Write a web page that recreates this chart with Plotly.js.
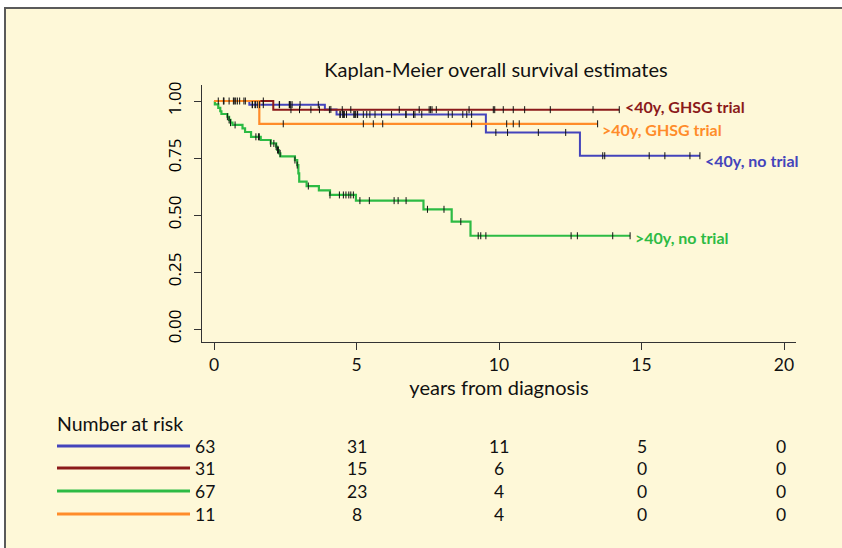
<!DOCTYPE html>
<html>
<head>
<meta charset="utf-8">
<script src="https://cdn.plot.ly/plotly-3.0.1.min.js"></script>
<style>html,body{margin:0;padding:0;background:#fff;}#chart{width:842px;height:548px;}</style>
</head>
<body>
<div id="chart"></div>
<script>
// ---------- data ----------
const groupNames = ["<40y, no trial", "<40y, GHSG trial", ">40y, no trial", ">40y, GHSG trial"];

const blueTimes = [0, 1.24, 3.89, 4.30, 9.54, 12.84];
const blueSurv  = [1.0, 0.984, 0.963, 0.941, 0.862, 0.760];
const blueEnd = 17.05;
const blueCensor = [0.35, 0.9, 1.1, 1.34, 1.35, 1.44, 1.45, 1.52, 1.6, 1.73, 2.29, 2.3, 2.64, 2.65, 2.69, 2.74, 3.02, 3.66, 4.1,
  4.42, 4.43, 4.52, 4.53, 4.56, 4.57, 4.65, 4.91, 4.92, 4.97, 5.03, 5.04, 5.24, 5.36, 5.47, 5.65, 5.88, 6.23, 6.73, 6.74,
  7.0, 7.05, 7.29, 8.22, 8.36, 8.73, 8.87, 9.04, 9.89, 10.3, 11.38, 12.34, 13.64, 13.71, 15.27, 15.82, 16.7, 17.05];

const redTimes = [0, 2.08];
const redSurv  = [1.0, 0.962];
const redEnd = 14.22;
const redCensor = [0.15, 0.53, 0.68, 0.71, 0.76, 0.82, 1.05, 1.73, 2.7, 3.0, 3.4, 3.7, 4.05, 4.5, 4.8, 6.5, 7.2, 7.55, 7.6,
  7.65, 7.8, 8.95, 9.8, 9.85, 10.15, 10.5, 10.9, 11.8, 13.3, 14.22];

const greenTimes = [0, 0.03, 0.15, 0.22, 0.26, 0.47, 0.53, 0.58, 0.65, 1.0, 1.09, 1.3, 1.64, 1.99, 2.18, 2.22, 2.28, 2.33,
  2.84, 2.92, 2.96, 2.99, 3.25, 3.68, 4.07, 4.98, 7.35, 8.34, 9.0];
const greenSurv  = [1.0, 0.985, 0.970, 0.955, 0.943, 0.931, 0.917, 0.905, 0.895, 0.880, 0.864, 0.843, 0.829, 0.814, 0.800,
  0.785, 0.770, 0.757, 0.741, 0.719, 0.683, 0.646, 0.627, 0.608, 0.588, 0.563, 0.525, 0.471, 0.409];
const greenEnd = 14.6;
const greenCensor = [0.47, 0.53, 0.58, 0.74, 1.47, 1.56, 1.59, 1.99, 2.1, 2.18, 2.23, 2.26, 2.32, 2.84, 2.92, 3.31, 4.07,
  4.4, 4.54, 4.63, 4.73, 4.8, 4.89, 5.12, 5.45, 6.32, 6.46, 6.74, 7.49, 8.07, 8.66, 9.27, 9.36, 9.54, 12.53, 12.75, 13.99, 14.6];

const orangeTimes = [0, 1.59];
const orangeSurv  = [1.0, 0.900];
const orangeEnd = 13.46;
const orangeCensor = [0.33, 2.43, 5.24, 5.59, 5.92, 9.04, 10.27, 10.5, 10.71, 13.46];

const riskTimes = [0, 5, 10, 15, 20];
const riskBlue   = [63, 31, 11, 5, 0];
const riskRed    = [31, 15, 6, 0, 0];
const riskGreen  = [67, 23, 4, 0, 0];
const riskOrange = [11, 8, 4, 0, 0];

const xTicks = [0, 5, 10, 15, 20];
const yTicks = [0, 0.25, 0.5, 0.75, 1.0];
const yTickText = ["0.00", "0.25", "0.50", "0.75", "1.00"];

// ---------- styling ----------
const C = {blue: "#4444BB", red: "#8B1A1A", green: "#2DBB44", orange: "#FF8C2A"};
const BG = "#FEF8D8";
const FONT = "Lato";
const YFONT = "Open Sans";

// plot area in pixels: left 202, right 796, top 85, bottom 342
const L = 202, R = 796, T = 85, B = 342, W = 842, H = 548;
const px2x = p => (p - L) / (R - L);
const py2y = p => (B - p) / (B - T);

function stepAt(times, surv, t) {
  let v = surv[0];
  for (let i = 0; i < times.length; i++) { if (times[i] <= t) v = surv[i]; }
  return v;
}
function curve(times, surv, end, color, width) {
  return {x: times.concat([end]), y: surv.concat([surv[surv.length - 1]]), type: "scatter", mode: "lines",
    line: {shape: "hv", color: color, width: width}, hoverinfo: "skip", showlegend: false};
}
function censors(times, surv, cens) {
  return {x: cens, y: cens.map(t => stepAt(times, surv, t)), type: "scatter", mode: "markers",
    marker: {symbol: "line-ns-open", size: 5, color: "#111111", line: {color: "#111111", width: 1}},
    hoverinfo: "skip", showlegend: false};
}

const traces = [
  curve(blueTimes, blueSurv, blueEnd, C.blue, 2),
  curve(redTimes, redSurv, redEnd, C.red, 2),
  curve(greenTimes, greenSurv, greenEnd, C.green, 2.2),
  curve(orangeTimes, orangeSurv, orangeEnd, C.orange, 2.2),
  censors(blueTimes, blueSurv, blueCensor),
  censors(redTimes, redSurv, redCensor),
  censors(greenTimes, greenSurv, greenCensor),
  censors(orangeTimes, orangeSurv, orangeCensor)
];

const series = [
  {name: groupNames[0], color: C.blue, times: blueTimes, surv: blueSurv, end: blueEnd, risk: riskBlue, dx: 3, dy: -5},
  {name: groupNames[1], color: C.red, times: redTimes, surv: redSurv, end: redEnd, risk: riskRed, dx: 4, dy: 3},
  {name: groupNames[2], color: C.green, times: greenTimes, surv: greenSurv, end: greenEnd, risk: riskGreen, dx: 3, dy: -2},
  {name: groupNames[3], color: C.orange, times: orangeTimes, surv: orangeSurv, end: orangeEnd, risk: riskOrange, dx: 2, dy: -6}
];

const annotations = [];
const shapes = [
  // outer frame
  {type: "rect", xref: "paper", yref: "paper", x0: px2x(5), x1: px2x(860), y0: py2y(570), y1: py2y(8),
    fillcolor: BG, line: {color: "#5a5a5a", width: 2}, layer: "below"}
];

// curve end labels
series.forEach(s => {
  annotations.push({x: s.end, y: s.surv[s.surv.length - 1], xref: "x", yref: "y", text: s.name, showarrow: false,
    xanchor: "left", yanchor: "middle", xshift: s.dx, yshift: s.dy,
    font: {family: FONT, size: 16, color: s.color, weight: "bold"}});
});

// number at risk table
annotations.push({x: px2x(55), y: py2y(423), xref: "paper", yref: "paper", text: "Number at risk", showarrow: false,
  xanchor: "left", yanchor: "middle", font: {family: FONT, size: 19.5, color: "#111"}});
const rowY = [446, 468, 491, 514];
series.forEach((s, i) => {
  shapes.push({type: "line", xref: "paper", yref: "paper", x0: px2x(57), x1: px2x(190), y0: py2y(rowY[i]), y1: py2y(rowY[i]),
    line: {color: s.color, width: 3}});
  s.risk.forEach((n, j) => {
    annotations.push({x: riskTimes[j], y: py2y(rowY[i]), xref: "x", yref: "paper", text: String(n), showarrow: false,
      xanchor: "center", yanchor: "middle", xshift: j === 0 ? -9 : (j === 4 ? -3 : 0),
      font: {family: FONT, size: 17.5, color: "#111"}});
  });
});

const layout = {
  width: W, height: H,
  margin: {l: L, r: W - R, t: T, b: H - B, pad: 0},
  paper_bgcolor: "#ffffff",
  plot_bgcolor: "rgba(0,0,0,0)",
  font: {family: FONT, color: "#111"},
  title: {text: "Kaplan-Meier overall survival estimates", font: {family: FONT, size: 20, color: "#111"},
    x: px2x(496), xref: "paper", xanchor: "center", y: 1 - 70 / H, yanchor: "middle"},
  xaxis: {range: [(L - 214) / 28.5, (R - 214) / 28.5], tickvals: xTicks, ticktext: xTicks.map(String),
    showgrid: false, zeroline: false, showline: true, linecolor: "#333", linewidth: 1,
    ticks: "outside", ticklen: 7, tickcolor: "#333", tickfont: {family: FONT, size: 17.5, color: "#111"},
    title: {text: "years from diagnosis", font: {family: FONT, size: 20, color: "#111"}, standoff: 2},
    fixedrange: true},
  yaxis: {range: [-13 / 228, 1 + 16 / 228], tickvals: yTicks, ticktext: yTickText, tickangle: -90,
    showgrid: false, zeroline: false, showline: true, linecolor: "#333", linewidth: 1,
    ticks: "outside", ticklen: 7, tickcolor: "#333", tickfont: {family: YFONT, size: 17, color: "#000"},
    ticklabelstandoff: 6, fixedrange: true},
  shapes: shapes,
  annotations: annotations,
  showlegend: false
};

Plotly.newPlot("chart", traces, layout, {displayModeBar: false, staticPlot: true});
</script>
</body>
</html>
